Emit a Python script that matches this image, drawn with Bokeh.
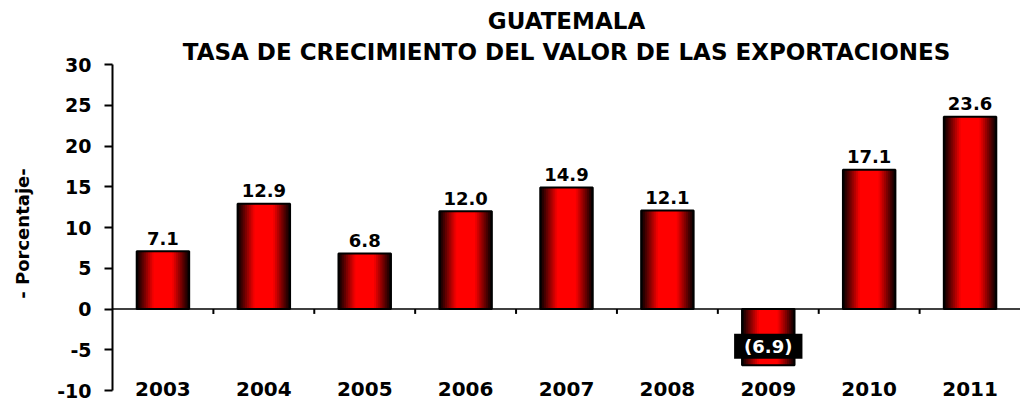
from bokeh.plotting import figure
from bokeh.models import (FactorRange, Range1d, FixedTicker, Span, Title,
                          ColumnDataSource)
from bokeh.transform import dodge
from bokeh.core.properties import value
from bokeh.embed import file_html
from bokeh.resources import INLINE

# ---------------- data ----------------
years = ["2003", "2004", "2005", "2006", "2007", "2008", "2009", "2010", "2011"]
growth = [7.1, 12.9, 6.8, 12.0, 14.9, 12.1, -6.9, 17.1, 23.6]
y_ticks = [-10, -5, 0, 5, 10, 15, 20, 25, 30]
title_top = "GUATEMALA"
title_main = "TASA DE CRECIMIENTO DEL VALOR DE LAS EXPORTACIONES"
y_label = "- Porcentaje-"

FONT = "DejaVu Sans"

def fmt(v):
    return f"({abs(v):.1f})" if v < 0 else f"{v:.1f}"

labels = [fmt(v) for v in growth]

p = figure(
    x_range=FactorRange(factors=years, range_padding=0),
    y_range=Range1d(min(y_ticks) - 1.47, max(y_ticks)),
    width=1020, height=402,
    x_axis_location=None,
    output_backend="svg", toolbar_location=None,
    min_border_left=112, min_border_right=0,
    min_border_top=64, min_border_bottom=0,
    title=title_top,
)
p.outline_line_color = None
p.grid.visible = False
p.background_fill_color = "white"
p.border_fill_color = "white"

# titles
p.title.text_font = FONT
p.title.text_font_style = "bold"
p.title.text_font_size = "23px"
p.title.text_color = "black"
p.title.align = "center"
p.title.standoff = 6
p.add_layout(Title(text=title_main, align="center", text_font=FONT,
                   text_font_style="bold", text_font_size="23px",
                   text_color="black", standoff=0), "above")

# y axis
ya = p.yaxis[0]
ya.ticker = FixedTicker(ticks=y_ticks)
ya.major_label_overrides = {t: str(t) for t in y_ticks}
ya.bounds = (min(y_ticks), max(y_ticks))
ya.major_label_text_font = FONT
ya.major_label_text_font_style = "bold"
ya.major_label_text_font_size = "19px"
ya.major_label_text_color = "black"
ya.major_tick_out = 8
ya.major_tick_in = 0
ya.minor_tick_line_color = None
ya.major_label_standoff = 13
ya.axis_line_width = 2
ya.axis_line_color = "black"
ya.major_tick_line_width = 2
ya.axis_label = y_label
ya.axis_label_text_font = FONT
ya.axis_label_text_font_style = "bold"
ya.axis_label_text_font_size = "18px"
ya.axis_label_text_color = "black"
ya.axis_label_standoff = 21

src = ColumnDataSource(dict(year=years, val=growth, lab=labels))

# bars with horizontal gradient (layered)
BAR_W = 0.52
N = 14
for k in range(N):
    t = (k + 0.5) / N
    r = int(255 * min(1.0, (t / 0.65)) ** 1.0)
    r = max(r, 16)
    col = "#%02x0000" % r
    p.vbar(x="year", top="val", bottom=0, width=BAR_W * (1 - k / N),
           source=src, fill_color=col, line_color=None)
p.vbar(x="year", top="val", bottom=0, width=BAR_W, source=src,
       fill_color=None, line_color="black", line_width=2)

# zero line and category boundary ticks
p.add_layout(Span(location=0, dimension="width", line_color="black",
                  line_width=1.5))
bsrc = ColumnDataSource(dict(year=years[:-1]))
p.segment(x0=dodge("year", 0.5, range=p.x_range), y0=0,
          x1=dodge("year", 0.5, range=p.x_range), y1=-0.6,
          source=bsrc, line_color="black", line_width=2)

# data labels
pos = ColumnDataSource(dict(year=[y for y, v in zip(years, growth) if v >= 0],
                            val=[v for v in growth if v >= 0],
                            lab=[l for l, v in zip(labels, growth) if v >= 0]))
neg = ColumnDataSource(dict(year=[y for y, v in zip(years, growth) if v < 0],
                            val=[v for v in growth if v < 0],
                            lab=[l for l, v in zip(labels, growth) if v < 0]))
p.text(x="year", y="val", text="lab", source=pos, text_align="center",
       text_baseline="alphabetic", y_offset=-13, text_font=value(FONT),
       text_font_style="bold", text_font_size="18px", text_color="black")
p.text(x="year", y="val", text="lab", source=neg, text_align="center",
       text_baseline="middle", y_offset=-19, text_font=value(FONT),
       text_font_style="bold", text_font_size="18px", text_color="white",
       background_fill_color="black", padding=dict(left=10, right=10, top=2, bottom=2))

# category labels at the bottom
csrc = ColumnDataSource(dict(year=years, y=[min(y_ticks)] * len(years)))
p.text(x="year", y="y", text="year", source=csrc, text_align="center",
       text_baseline="middle", y_offset=-2, text_font=value(FONT),
       text_font_style="bold", text_font_size="20px", text_color="black")

open("out.html", "w").write(file_html(p, INLINE))
